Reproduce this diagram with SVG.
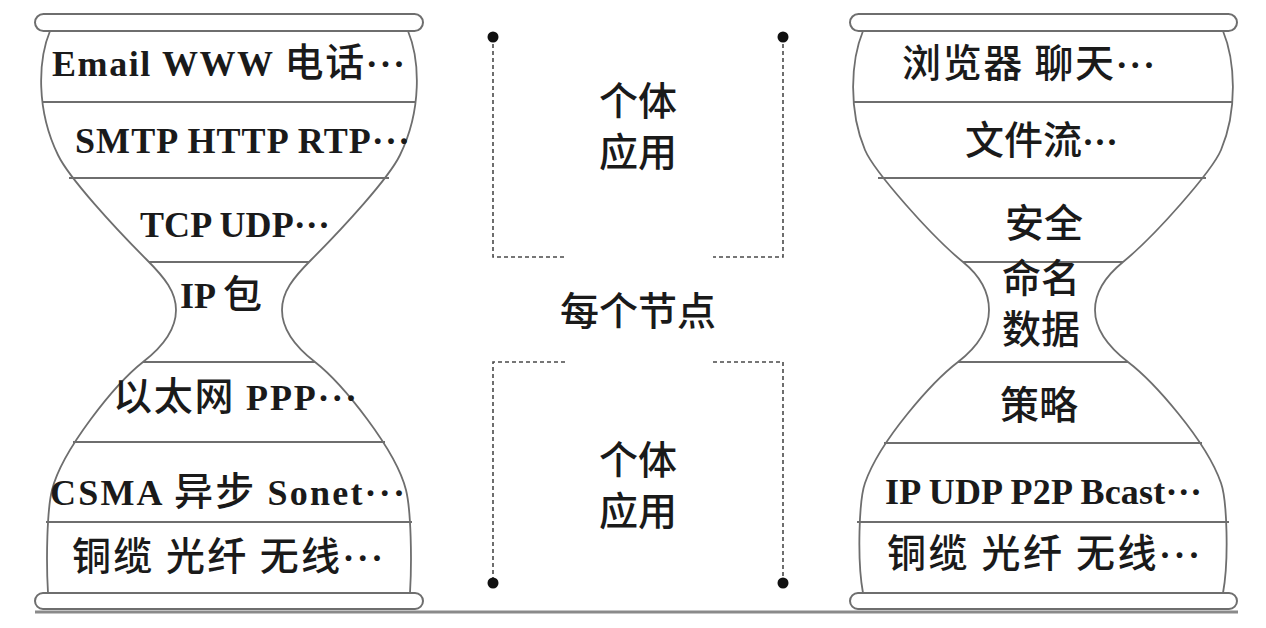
<svg xmlns="http://www.w3.org/2000/svg" width="1266" height="628" viewBox="0 0 1266 628">
<style>
.bg{fill:#ffffff}
.cap{fill:#ffffff;stroke:#6e6e6e;stroke-width:2}
.side{fill:none;stroke:#6e6e6e;stroke-width:1.8}
.layer{stroke:#6e6e6e;stroke-width:1.8}
.base{stroke:#8a8a8a;stroke-width:3}
.t{font-family:"Liberation Serif","Noto Sans CJK SC",serif;font-weight:bold;font-size:36px;fill:#1a1a1a}
.c{font-family:"Noto Sans CJK SC","Noto Sans CJK JP",sans-serif;font-weight:500;font-size:39px}
.cc{font-family:"Noto Sans CJK SC","Noto Sans CJK JP",sans-serif;font-weight:500;font-size:39px;fill:#1a1a1a;text-anchor:middle}
.dash{fill:none;stroke:#4a4a4a;stroke-width:1.6;stroke-dasharray:4 3}
.dot{fill:#111111}
</style>
<rect class="bg" x="0" y="0" width="1266" height="628"/>

<line class="base" x1="35" y1="612" x2="1238" y2="612"/>

<g id="left-hourglass">
  <path class="side" d="M50,31 C38,60 36,110 58,155 C69,178 115,228 147,260 C165,278 176,292 176,310 C176,328 165,345 143,362 C115,384 62,450 52,490 C47,510 46,560 48,593"/>
  <path class="side" d="M408,31 C420,60 422,110 400,155 C389,178 343,228 311,260 C293,278 282,292 282,310 C282,328 293,345 315,362 C343,384 396,450 406,490 C411,510 412,560 410,593"/>
  <rect class="cap" x="35" y="14" width="388" height="17" rx="8.5"/>
  <rect class="cap" x="35" y="593" width="388" height="16" rx="8"/>
  <line class="layer" x1="42" y1="102" x2="416" y2="102"/>
  <line class="layer" x1="69" y1="178" x2="389" y2="178"/>
  <line class="layer" x1="149" y1="262" x2="309" y2="262"/>
  <line class="layer" x1="143" y1="362" x2="315" y2="362"/>
  <line class="layer" x1="73" y1="442" x2="385" y2="442"/>
  <line class="layer" x1="46" y1="522" x2="412" y2="522"/>
</g>

<g id="left-labels">
  <g id="l-app"><text class="t" x="52" y="76" textLength="353" lengthAdjust="spacing">Email WWW  <tspan class="c">电话</tspan>···</text></g>
  <g id="l-proto"><text class="t" x="75" y="153" textLength="335" lengthAdjust="spacing">SMTP HTTP RTP···</text></g>
  <g id="l-transport"><text class="t" x="140" y="237" textLength="190" lengthAdjust="spacing">TCP UDP···</text></g>
  <g id="l-ip"><text class="t" x="180" y="308" textLength="82" lengthAdjust="spacing">IP <tspan class="c">包</tspan></text></g>
  <g id="l-link"><text class="t" x="113" y="410" textLength="244" lengthAdjust="spacing"><tspan class="c">以太网</tspan>  PPP···</text></g>
  <g id="l-mac"><text class="t" x="50" y="505" textLength="355" lengthAdjust="spacing">CSMA  <tspan class="c">异步</tspan>  Sonet···</text></g>
  <g id="l-phy"><text class="t" x="72" y="570" textLength="311" lengthAdjust="spacing"><tspan class="c">铜缆</tspan>  <tspan class="c">光纤</tspan>  <tspan class="c">无线</tspan>···</text></g>
</g>

<g id="right-hourglass">
  <path class="side" d="M863,31 C851,60 848,110 865,150 C874,171 930,235 963,262 C979,275 989,292 989,310 C989,328 980,345 958,362 C933,381 880,440 865,483 C859,500 857,560 863,593"/>
  <path class="side" d="M1223,31 C1235,60 1238,110 1221,150 C1212,171 1156,235 1123,262 C1107,275 1095,292 1095,310 C1095,328 1106,345 1128,362 C1153,381 1206,440 1221,483 C1227,500 1229,560 1223,593"/>
  <rect class="cap" x="850" y="14" width="387" height="17" rx="8.5"/>
  <rect class="cap" x="850" y="593" width="387" height="16" rx="8"/>
  <line class="layer" x1="853" y1="102" x2="1232" y2="102"/>
  <line class="layer" x1="878" y1="178" x2="1206" y2="178"/>
  <line class="layer" x1="963" y1="262" x2="1123" y2="262"/>
  <line class="layer" x1="958" y1="362" x2="1128" y2="362"/>
  <line class="layer" x1="884" y1="443" x2="1202" y2="443"/>
  <line class="layer" x1="857" y1="522" x2="1229" y2="522"/>
</g>

<g id="right-labels">
  <g id="r-app"><text class="t" x="902" y="77" textLength="253" lengthAdjust="spacing"><tspan class="c">浏览器</tspan>  <tspan class="c">聊天</tspan>···</text></g>
  <g id="r-file"><text class="t" x="965" y="154" textLength="153" lengthAdjust="spacing"><tspan class="c">文件流</tspan>···</text></g>
  <g id="r-sec"><text class="cc" x="1044" y="237">安全</text></g>
  <g id="r-name"><text class="cc" x="1041" y="292">命名<tspan x="1041" dy="51">数据</tspan></text></g>
  <g id="r-policy"><text class="cc" x="1039" y="419">策略</text></g>
  <g id="r-net"><text class="t" x="885" y="504" textLength="317" lengthAdjust="spacing">IP UDP P2P Bcast···</text></g>
  <g id="r-phy"><text class="t" x="887" y="567" textLength="313" lengthAdjust="spacing"><tspan class="c">铜缆</tspan>  <tspan class="c">光纤</tspan>  <tspan class="c">无线</tspan>···</text></g>
</g>

<g id="connectors">
  <path class="dash" d="M493,37 V257 H565"/>
  <path class="dash" d="M783,37 V257 H713"/>
  <path class="dash" d="M565,362 H493 V583"/>
  <path class="dash" d="M713,362 H783 V583"/>
  <circle class="dot" cx="493" cy="37" r="5.5"/>
  <circle class="dot" cx="783" cy="37" r="5.5"/>
  <circle class="dot" cx="493" cy="583" r="5.5"/>
  <circle class="dot" cx="783" cy="583" r="5.5"/>
</g>

<g id="center-top"><text class="cc" x="638" y="115">个体<tspan x="638" dy="51">应用</tspan></text></g>
<g id="center-node"><text class="cc" x="638" y="325">每个节点</text></g>
<g id="center-bottom"><text class="cc" x="638" y="474">个体<tspan x="638" dy="51">应用</tspan></text></g>
</svg>
